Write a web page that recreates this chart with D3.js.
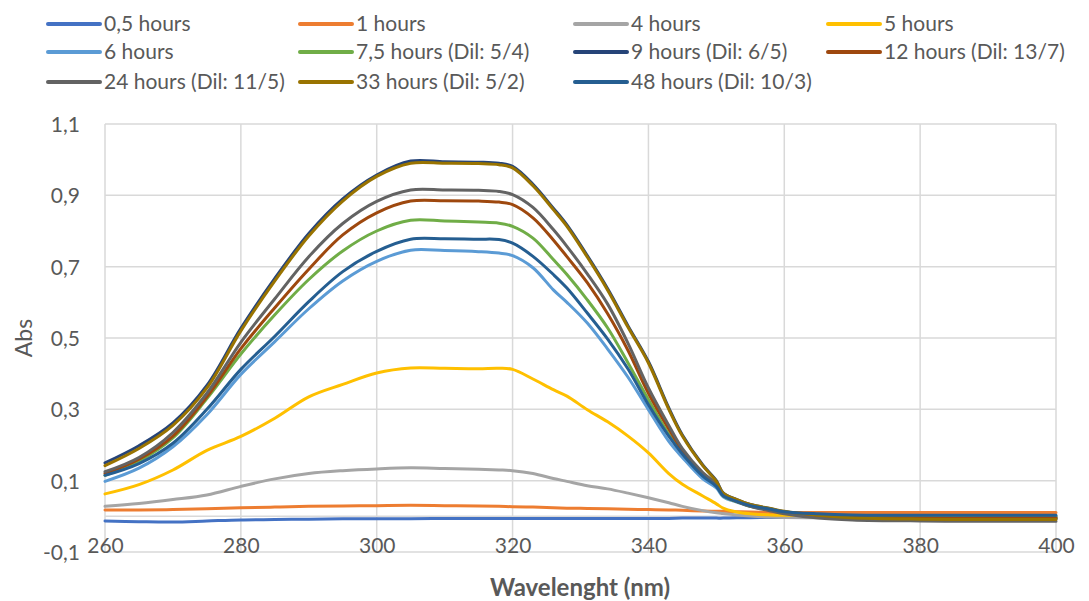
<!DOCTYPE html>
<html>
<head>
<meta charset="utf-8">
<script src="https://cdn.jsdelivr.net/npm/d3@7"></script>
<style>
  body { margin: 0; background: #fff; }
  svg text { font-family: Lato, "Open Sans", sans-serif; fill: #595959; }
</style>
</head>
<body>
<div id="chart"></div>
<script>
// wavelength (nm) shared by every series
var wavelengths = [260, 265, 270, 275, 280, 285, 290, 295, 300, 305, 310, 315, 318, 320, 323, 326, 328, 331, 334, 337, 340, 343, 345, 348, 350, 351, 353, 355, 358, 360, 365, 370, 380, 390, 400];

// absorbance, one list per series
var h05 = [-0.013, -0.015, -0.016, -0.013, -0.010, -0.009, -0.008, -0.007, -0.007, -0.007, -0.006, -0.006, -0.006, -0.006, -0.006, -0.006, -0.006, -0.006, -0.006, -0.006, -0.006, -0.006, -0.005, -0.005, -0.005, -0.005, -0.004, -0.004, -0.003, -0.003, -0.002, -0.002, -0.002, -0.002, -0.002];
var h1 = [0.018, 0.018, 0.019, 0.021, 0.024, 0.026, 0.028, 0.029, 0.030, 0.031, 0.030, 0.029, 0.028, 0.027, 0.026, 0.024, 0.023, 0.022, 0.021, 0.020, 0.019, 0.018, 0.017, 0.015, 0.014, 0.014, 0.013, 0.012, 0.011, 0.011, 0.011, 0.011, 0.011, 0.011, 0.011];
var h4 = [0.028, 0.036, 0.047, 0.060, 0.084, 0.105, 0.120, 0.128, 0.133, 0.136, 0.134, 0.132, 0.130, 0.128, 0.120, 0.106, 0.098, 0.086, 0.077, 0.065, 0.052, 0.038, 0.028, 0.016, 0.010, 0.008, 0.004, 0.001, -0.002, -0.003, -0.004, -0.004, -0.005, -0.005, -0.005];
var h5 = [0.063, 0.089, 0.130, 0.185, 0.224, 0.275, 0.335, 0.370, 0.402, 0.416, 0.415, 0.414, 0.415, 0.412, 0.385, 0.355, 0.337, 0.299, 0.265, 0.225, 0.178, 0.120, 0.090, 0.057, 0.035, 0.023, 0.012, 0.007, 0.004, 0.003, 0.002, 0.001, 0.000, 0.000, 0.000];
var h6 = [0.098, 0.135, 0.195, 0.285, 0.398, 0.490, 0.582, 0.660, 0.715, 0.746, 0.745, 0.742, 0.738, 0.731, 0.697, 0.635, 0.600, 0.542, 0.469, 0.390, 0.299, 0.210, 0.165, 0.105, 0.080, 0.055, 0.040, 0.028, 0.018, 0.011, 0.004, 0.001, 0.000, 0.000, 0.000];
var h75 = [0.115, 0.155, 0.220, 0.330, 0.455, 0.565, 0.664, 0.744, 0.800, 0.830, 0.828, 0.825, 0.822, 0.813, 0.780, 0.720, 0.678, 0.607, 0.528, 0.430, 0.327, 0.230, 0.180, 0.117, 0.087, 0.058, 0.041, 0.028, 0.018, 0.011, 0.003, -0.001, -0.003, -0.003, -0.003];
var h9 = [0.150, 0.198, 0.262, 0.367, 0.527, 0.667, 0.793, 0.890, 0.957, 0.996, 0.994, 0.993, 0.990, 0.981, 0.931, 0.864, 0.817, 0.731, 0.638, 0.534, 0.434, 0.304, 0.228, 0.144, 0.100, 0.066, 0.047, 0.033, 0.021, 0.013, 0.003, -0.003, -0.006, -0.007, -0.007];
var h12 = [0.120, 0.160, 0.225, 0.335, 0.470, 0.585, 0.693, 0.789, 0.851, 0.884, 0.885, 0.884, 0.881, 0.874, 0.837, 0.775, 0.728, 0.655, 0.568, 0.465, 0.345, 0.245, 0.185, 0.120, 0.089, 0.060, 0.042, 0.029, 0.018, 0.011, 0.001, -0.003, -0.005, -0.005, -0.005];
var h24 = [0.125, 0.165, 0.235, 0.345, 0.488, 0.610, 0.728, 0.821, 0.883, 0.915, 0.915, 0.914, 0.911, 0.902, 0.866, 0.804, 0.757, 0.680, 0.595, 0.485, 0.360, 0.255, 0.190, 0.123, 0.091, 0.060, 0.042, 0.028, 0.015, 0.007, -0.005, -0.010, -0.013, -0.014, -0.014];
var h33 = [0.142, 0.190, 0.255, 0.360, 0.520, 0.660, 0.786, 0.884, 0.953, 0.990, 0.990, 0.989, 0.986, 0.977, 0.927, 0.860, 0.813, 0.727, 0.634, 0.530, 0.430, 0.300, 0.225, 0.142, 0.098, 0.065, 0.047, 0.033, 0.022, 0.014, 0.003, -0.004, -0.008, -0.009, -0.009];
var h48 = [0.115, 0.148, 0.205, 0.300, 0.412, 0.505, 0.602, 0.686, 0.743, 0.777, 0.778, 0.777, 0.776, 0.766, 0.729, 0.678, 0.640, 0.570, 0.497, 0.413, 0.313, 0.225, 0.175, 0.113, 0.084, 0.058, 0.042, 0.030, 0.020, 0.013, 0.007, 0.004, 0.003, 0.003, 0.003];

var seriesNames = ["0,5 hours", "1 hours", "4 hours", "5 hours", "6 hours", "7,5 hours (Dil: 5/4)", "9 hours (Dil: 6/5)", "12 hours (Dil: 13/7)", "24 hours (Dil: 11/5)", "33 hours (Dil: 5/2)", "48 hours (Dil: 10/3)"];
var seriesValues = [h05, h1, h4, h5, h6, h75, h9, h12, h24, h33, h48];
var colors = ["#4472C4", "#ED7D31", "#A5A5A5", "#FFC000", "#5B9BD5", "#70AD47", "#264478", "#9E480E", "#636363", "#997300", "#255E91"];

var xTicks = [260, 280, 300, 320, 340, 360, 380, 400];
var yTicks = [-0.1, 0.1, 0.3, 0.5, 0.7, 0.9, 1.1];

var width = 1089, height = 601;
var margin = { top: 124, right: 33, bottom: 49, left: 105 };

var svg = d3.select("#chart").append("svg")
  .attr("width", width)
  .attr("height", height);

var x = d3.scaleLinear().domain([260, 400]).range([margin.left, width - margin.right]);
var y = d3.scaleLinear().domain([-0.1, 1.1]).range([height - margin.bottom, margin.top]);

//gridlines, plus the line at zero where excel puts the category axis
var grid = svg.append("g").attr("stroke", "#D9D9D9").attr("stroke-width", 1.5);
grid.selectAll(".gx").data(xTicks).join("line")
  .attr("x1", d => x(d)).attr("x2", d => x(d))
  .attr("y1", y(1.1)).attr("y2", y(-0.1));
grid.selectAll(".gy").data(yTicks.concat([0])).join("line")
  .attr("x1", x(260)).attr("x2", x(400))
  .attr("y1", d => y(d)).attr("y2", d => y(d));

//axes, labels only (comma decimals, plain hyphen for the minus)
var fmt = d => d3.format(".1f")(d).replace(".", ",").replace("\u2212", "-");
svg.append("g")
  .attr("transform", `translate(${x(260) - 22},0)`)
  .call(d3.axisLeft(y).tickValues(yTicks).tickFormat(fmt).tickSize(0))
  .call(g => g.select(".domain").remove())
  .call(g => g.selectAll("text").attr("font-size", "21px").attr("fill", "#595959").attr("dy", "0.35em"));

svg.append("g")
  .attr("transform", `translate(0,${y(-0.1) - 17})`)
  .call(d3.axisBottom(x).tickValues(xTicks).tickFormat(d3.format("d")).tickSize(0))
  .call(g => g.select(".domain").remove())
  .call(g => g.selectAll("text").attr("font-size", "21px").attr("fill", "#595959"));

//series lines
var line = d3.line()
  .x((d, i) => x(wavelengths[i]))
  .y(d => y(d))
  .curve(d3.curveCatmullRom.alpha(0.5));

svg.append("g").selectAll("path")
  .data(seriesValues)
  .join("path")
  .attr("d", d => line(d))
  .attr("fill", "none")
  .attr("stroke", (d, i) => colors[i])
  .attr("stroke-width", 3)
  .attr("stroke-linejoin", "round")
  .attr("stroke-linecap", "round");

//axis titles
svg.append("text")
  .attr("transform", "translate(24,338) rotate(-90)")
  .attr("text-anchor", "middle")
  .attr("dy", "0.35em")
  .attr("font-size", "23px")
  .text("Abs");

svg.append("text")
  .attr("x", 580).attr("y", 596)
  .attr("text-anchor", "middle")
  .attr("font-size", "24px")
  .attr("font-weight", "bold")
  .text("Wavelenght (nm)");

//legend, 4 columns
var colX = [48, 300, 575, 828];
var rowY = [24, 52, 82];
var legend = svg.append("g").selectAll("g")
  .data(seriesNames)
  .join("g")
  .attr("transform", (d, i) => `translate(${colX[i % 4]},${rowY[Math.floor(i / 4)]})`);
legend.append("line")
  .attr("x1", 0).attr("x2", 52)
  .attr("stroke", (d, i) => colors[i])
  .attr("stroke-width", 4)
  .attr("stroke-linecap", "round");
legend.append("text")
  .attr("x", 56)
  .attr("dy", "0.35em")
  .attr("font-size", "21px")
  .text(d => d);
</script>
</body>
</html>
